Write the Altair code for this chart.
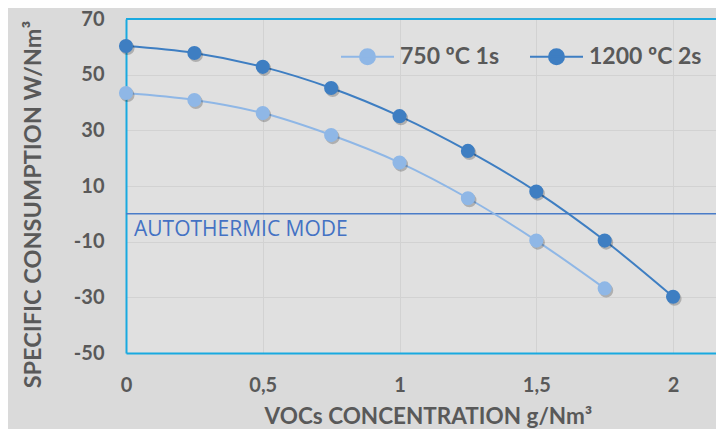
import altair as alt
import pandas as pd

x_vals = [0, 0.25, 0.5, 0.75, 1, 1.25, 1.5, 1.75, 2]
series_750 = [43.4, 40.9, 36.2, 28.3, 18.4, 5.6, -9.6, -26.8]
series_1200 = [60.3, 57.8, 52.8, 45.2, 35.1, 22.6, 8.0, -9.6, -29.8]
series_names = ["750 ºC 1s", "1200 ºC 2s"]
series_colors = ["#8fb7e6", "#3e7ec2"]
y_ticks = [-50, -30, -10, 10, 30, 50, 70]
x_ticks = [0, 0.5, 1, 1.5, 2]
threshold_value = [0]
threshold_label = ["AUTOTHERMIC MODE"]
y_top = [70]

rows = []
for xv, yv in zip(x_vals, series_750):
    rows.append({"x": xv, "y": yv, "series": series_names[0]})
for xv, yv in zip(x_vals, series_1200):
    rows.append({"x": xv, "y": yv, "series": series_names[1]})
df = pd.DataFrame(rows)

FONT = "Lato"
TXT = "#595959"
CYAN = "#19a9e0"

x_scale = alt.Scale(domain=[0, 2.157], nice=False, zero=False)
y_scale = alt.Scale(domain=[-50, 70], nice=False, zero=False)

x_axis = alt.Axis(
    values=x_ticks,
    labelExpr="replace(format(datum.value, '~g'), '.', ',')",
    labelFlush=False,
    title="VOCs CONCENTRATION g/Nm³",
    titleX=302,
    titleY=63,
    titleFontSize=22.5,
    titleAlign="center",
    titleBaseline="middle",
    labelPadding=22,
    ticks=False,
    domainColor=CYAN,
    domainWidth=2,
    grid=True,
)
y_axis = alt.Axis(
    values=y_ticks,
    labelExpr="datum.value < 0 ? '-' + abs(datum.value) : '' + datum.value",
    labelFlush=False,
    title="SPECIFIC CONSUMPTION W/Nm³",
    titleX=-93,
    titleY=185,
    titleAngle=270,
    titleFontSize=23.5,
    titleAlign="center",
    titleBaseline="middle",
    labelPadding=22,
    ticks=False,
    domainColor=CYAN,
    domainWidth=2,
    grid=True,
)

custom_symbol = "M-1,0L1,0M-0.283,0A0.283,0.283,0,1,1,0.283,0A0.283,0.283,0,1,1,-0.283,0Z"
legend = alt.Legend(
    orient="none",
    legendX=214,
    legendY=10,
    direction="horizontal",
    title=None,
    symbolType=custom_symbol,
    symbolSize=2809,
    symbolStrokeWidth=2,
    columnPadding=26,
    labelOffset=5,
    padding=0,
)
stroke_scale = alt.Scale(domain=series_names, range=series_colors)

base = alt.Chart(df)

top_border = alt.Chart(pd.DataFrame({"y": y_top})).mark_rule(
    color=CYAN, strokeWidth=2
).encode(y=alt.Y("y:Q", scale=y_scale, axis=y_axis))

thr = pd.DataFrame({"y": threshold_value, "label": threshold_label})
thr_rule = alt.Chart(thr).mark_rule(color="#4a7cc8", strokeWidth=1.5).encode(
    y=alt.Y("y:Q", scale=y_scale)
)
thr_text = alt.Chart(thr).mark_text(
    align="left", baseline="middle", dy=16, font="Open Sans", fontSize=21,
    color="#4472c4"
).encode(x=alt.value(8), y=alt.Y("y:Q", scale=y_scale), text="label:N")

lines = base.mark_line(interpolate="monotone", strokeWidth=2).encode(
    x=alt.X("x:Q", scale=x_scale, axis=x_axis),
    y=alt.Y("y:Q", scale=y_scale),
    stroke=alt.Stroke("series:N", scale=stroke_scale, legend=legend, sort=series_names),
)
shadow = base.mark_circle(size=200, color="#000000", opacity=0.22, xOffset=1.5, yOffset=2).encode(
    x=alt.X("x:Q", scale=x_scale),
    y=alt.Y("y:Q", scale=y_scale),
)
points = base.mark_circle(size=200, opacity=1).encode(
    x=alt.X("x:Q", scale=x_scale),
    y=alt.Y("y:Q", scale=y_scale),
    fill=alt.Fill("series:N", scale=stroke_scale, legend=legend, sort=series_names),
)

chart = alt.layer(top_border, thr_rule, thr_text, lines, shadow, points).properties(
    width=590, height=334,
    autosize=alt.AutoSizeParams(type="none"),
    padding={"left": 118, "top": 11, "right": 0, "bottom": 76},
    background="#dadada",
).configure_view(
    stroke=None, fill="#e0e0e0"
).configure_axis(
    labelFont=FONT, labelFontSize=20, labelFontWeight="bold", labelColor=TXT,
    titleFont=FONT, titleFontSize=23, titleFontWeight="bold", titleColor=TXT,
    gridColor="#d2d2d2", gridWidth=1,
).configure_legend(
    labelFont=FONT, labelFontSize=23, labelFontWeight="bold", labelColor=TXT,
)

chart.save("out.html", embed_options={"renderer": "svg", "actions": False})
